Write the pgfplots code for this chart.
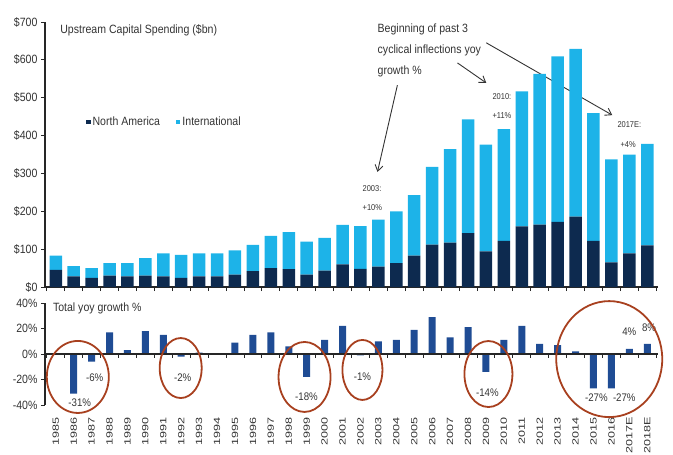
\documentclass[border=0pt]{standalone}
\usepackage{fontspec}
\setmainfont{Liberation Sans}[FakeStretch=0.88]
\newfontfamily\yearfont{Liberation Sans}[FakeStretch=1.4]
\usepackage{pgfplots}
\pgfplotsset{compat=1.18}
\usepackage{pgfplotstable}
\usetikzlibrary{arrows.meta}
\definecolor{cna}{HTML}{0D2A4F}
\definecolor{cintl}{HTML}{1DB3E8}
\definecolor{cgr}{HTML}{1F4C94}
\definecolor{ccirc}{HTML}{A8401F}
\definecolor{ctxt}{HTML}{333333}

\pgfplotstableread{
idx nam intl
0 45 38
1 28 27
2 24 26
3 30 33
4 28 35
5 30 46
6 28 61
7 24 61
8 28 61
9 28 61
10 33 64
11 42 69
12 50 85
13 47 98
14 33 87
15 43 87
16 60 104
17 48 113
18 54 124
19 63 137
20 83 160
21 112 205
22 117 247
23 142 301
24 94 282
25 122 295
26 160 357
27 165 398
28 172 437
29 186 443
30 122 337
31 65 272
32 89 261
33 110 268
}\capex

\pgfplotstableread{
idx g
1 -31
2 -6
3 17
4 3
5 18
6 15
7 -2
8 1
9 0
10 9
11 15
12 17
13 6
14 -18
15 11
16 22
17 -1
18 10
19 11
20 19
21 29
22 13
23 21
24 -14
25 11
26 22
27 8
28 7
29 2
30 -27
31 -27
32 4
33 8
}\growth

\tikzset{
  lab/.style={text=ctxt, inner sep=0pt, font=\fontsize{11}{12}\selectfont},
  ann/.style={anchor=west, text=ctxt, inner sep=0pt, font=\fontsize{8.5}{10}\selectfont},
  arr/.style={-{Straight Barb[length=6pt,width=8pt]}, black!80, line width=0.9pt},
  circ/.style={ccirc, line width=1.8pt},
  zt/.style={black!85, line width=0.9pt},
}

\begin{document}
\begin{tikzpicture}
\useasboundingbox (0pt,0pt) rectangle (673pt,-455pt);
\pgfplotsset{
  every tick label/.append style={font=\fontsize{12}{14}\selectfont, text=ctxt},
}
% ---------------- top panel ----------------
\begin{axis}[
  at={(45pt,-287pt)}, anchor=south west,
  width=613pt, height=265pt, scale only axis,
  xmin=-0.6, xmax=33.6, ymin=0, ymax=700,
  axis x line*=bottom, axis y line*=left,
  axis line style={black!85, line width=1.1pt},
  ytick={0,100,...,700},
  yticklabels={\textdollar0,\textdollar100,\textdollar200,\textdollar300,\textdollar400,\textdollar500,\textdollar600,\textdollar700},
  xtick={-0.5,0.5,...,33.5}, xticklabels={},
  tick align=outside, major tick length=4pt,
  tick style={black!85, line width=0.9pt},
  ybar stacked, bar width=12.5pt,
  clip=false,
  legend style={at={(axis description cs:0.062,0.623)}, anchor=west,
    draw=none, fill=none, legend columns=2,
    font=\fontsize{12}{14}\selectfont, text=ctxt,
    /tikz/every even column/.append style={column sep=14pt}},
  legend image code/.code={\draw[#1, draw=none] (0pt,-2.2pt) rectangle (4.4pt,2.2pt);},
]
\addplot[fill=cna, draw=none] table[x=idx, y=nam] {\capex};
\addlegendentry{North America}
\addplot[fill=cintl, draw=none] table[x=idx, y=intl] {\capex};
\addlegendentry{International}

\node[anchor=west, text=ctxt, font=\fontsize{12}{14}\selectfont] at (axis cs:0.06,679) {Upstream Capital Spending (\textdollar bn)};

\node[anchor=north west, align=left, text=ctxt, inner sep=0pt,
  font=\fontsize{12}{21}\selectfont] at (axis cs:17.95,697)
  {Beginning of past 3\\cyclical inflections yoy\\growth \%};

\draw[arr] (axis cs:19.06,533) -- (axis cs:17.95,304);
\draw[arr] (axis cs:22.41,592) -- (axis cs:24.02,539);
\draw[arr] (axis cs:24.02,645) -- (axis cs:31.05,454);

\node[ann] at (axis cs:17.11,261) {2003:};
\node[ann] at (axis cs:17.11,209) {+10\%};
\node[ann] at (axis cs:24.36,502) {2010:};
\node[ann] at (axis cs:24.36,454) {+11\%};
\node[ann] at (axis cs:31.33,428) {2017E:};
\node[ann] at (axis cs:31.5,375) {+4\%};
\end{axis}

% ---------------- bottom panel ----------------
\begin{axis}[
  at={(45pt,-405pt)}, anchor=south west,
  width=613pt, height=102pt, scale only axis,
  xmin=-0.6, xmax=33.6, ymin=-40, ymax=40,
  axis x line*=bottom, axis y line*=left,
  axis line style={black!85, line width=1.1pt},
  x axis line style={draw=none},
  xtick={0,...,33},
  xticklabels={1985,1986,1987,1988,1989,1990,1991,1992,1993,1994,1995,1996,1997,1998,1999,2000,2001,2002,2003,2004,2005,2006,2007,2008,2009,2010,2011,2012,2013,2014,2015,2016,2017E,2018E},
  xticklabel style={rotate=90, anchor=east, font=\yearfont\fontsize{9}{10}\selectfont},
  xticklabel shift=5pt,
  major x tick style={draw=none},
  ytick={-40,-20,0,20,40},
  yticklabels={-40\%,-20\%,0\%,20\%,40\%},
  tick align=outside, major tick length=4pt,
  tick style={black!85, line width=0.9pt},
  ybar, bar width=7pt,
  clip=false,
]
\addplot[fill=cgr, draw=none] table[x=idx, y=g] {\growth};

\draw[black!85, line width=1.1pt] (axis cs:-0.6,0) -- (axis cs:33.6,0);
\draw[zt] (axis cs:-0.5,0) -- ++(0pt,-4pt) (axis cs:0.5,0) -- ++(0pt,-4pt)
  (axis cs:1.5,0) -- ++(0pt,-4pt) (axis cs:2.5,0) -- ++(0pt,-4pt)
  (axis cs:3.5,0) -- ++(0pt,-4pt) (axis cs:4.5,0) -- ++(0pt,-4pt)
  (axis cs:5.5,0) -- ++(0pt,-4pt) (axis cs:6.5,0) -- ++(0pt,-4pt)
  (axis cs:7.5,0) -- ++(0pt,-4pt) (axis cs:8.5,0) -- ++(0pt,-4pt)
  (axis cs:9.5,0) -- ++(0pt,-4pt) (axis cs:10.5,0) -- ++(0pt,-4pt)
  (axis cs:11.5,0) -- ++(0pt,-4pt) (axis cs:12.5,0) -- ++(0pt,-4pt)
  (axis cs:13.5,0) -- ++(0pt,-4pt) (axis cs:14.5,0) -- ++(0pt,-4pt)
  (axis cs:15.5,0) -- ++(0pt,-4pt) (axis cs:16.5,0) -- ++(0pt,-4pt)
  (axis cs:17.5,0) -- ++(0pt,-4pt) (axis cs:18.5,0) -- ++(0pt,-4pt)
  (axis cs:19.5,0) -- ++(0pt,-4pt) (axis cs:20.5,0) -- ++(0pt,-4pt)
  (axis cs:21.5,0) -- ++(0pt,-4pt) (axis cs:22.5,0) -- ++(0pt,-4pt)
  (axis cs:23.5,0) -- ++(0pt,-4pt) (axis cs:24.5,0) -- ++(0pt,-4pt)
  (axis cs:25.5,0) -- ++(0pt,-4pt) (axis cs:26.5,0) -- ++(0pt,-4pt)
  (axis cs:27.5,0) -- ++(0pt,-4pt) (axis cs:28.5,0) -- ++(0pt,-4pt)
  (axis cs:29.5,0) -- ++(0pt,-4pt) (axis cs:30.5,0) -- ++(0pt,-4pt)
  (axis cs:31.5,0) -- ++(0pt,-4pt) (axis cs:32.5,0) -- ++(0pt,-4pt)
  (axis cs:33.5,0) -- ++(0pt,-4pt);

\node[anchor=west, text=ctxt, font=\fontsize{12}{14}\selectfont] at (axis cs:-0.35,36) {Total yoy growth \%};

\node[lab] at (axis cs:1.34,-38.4) {-31\%};
\node[lab] at (axis cs:2.17,-18.8) {-6\%};
\node[lab] at (axis cs:7.08,-18.8) {-2\%};
\node[lab] at (axis cs:13.99,-33.7) {-18\%};
\node[lab] at (axis cs:17.11,-18) {-1\%};
\node[lab] at (axis cs:24.08,-30.6) {-14\%};
\node[lab] at (axis cs:30.16,-34.5) {-27\%};
\node[lab] at (axis cs:31.72,-34.5) {-27\%};
\node[lab] at (axis cs:32.0,17.3) {4\%};
\node[lab] at (axis cs:33.1,21) {8\%};

\draw[circ] (axis cs:1.23,-18) ellipse [x radius=31pt, y radius=36pt];
\draw[circ] (axis cs:6.97,-11) ellipse [x radius=21pt, y radius=30pt];
\draw[circ] (axis cs:13.88,-18) ellipse [x radius=26pt, y radius=35pt];
\draw[circ] (axis cs:17.11,-12.5) ellipse [x radius=20pt, y radius=30pt];
\draw[circ] (axis cs:24.14,-15.7) ellipse [x radius=24pt, y radius=33pt];
\draw[circ] (axis cs:30.88,-4) ellipse [x radius=53pt, y radius=58pt];
\end{axis}
\end{tikzpicture}
\end{document}
